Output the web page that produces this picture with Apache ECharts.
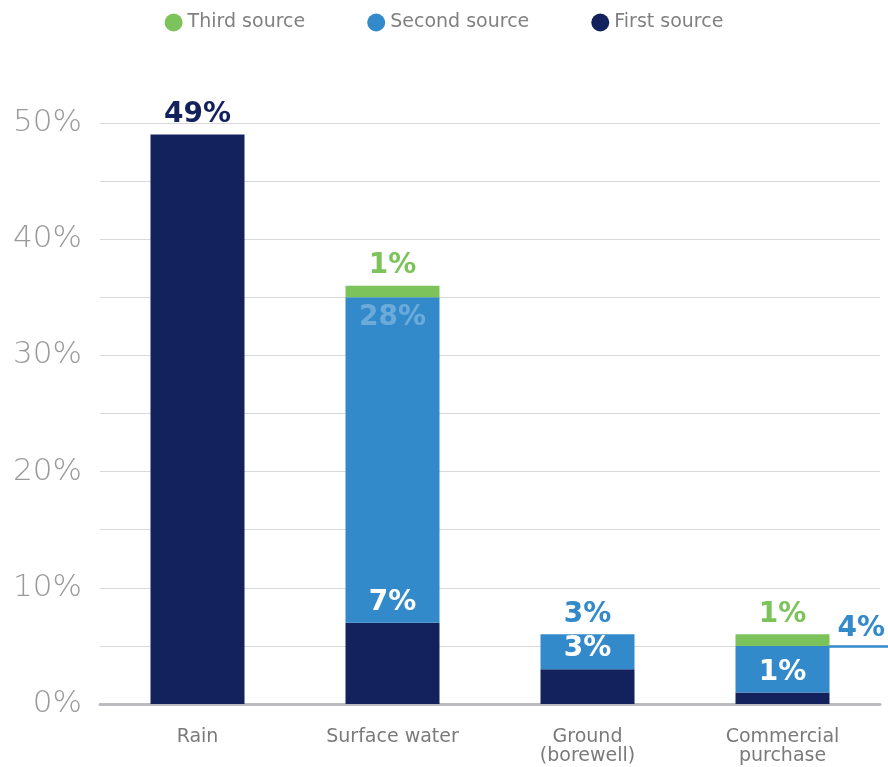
<!DOCTYPE html>
<html>
<head>
<meta charset="utf-8">
<script src="https://cdn.jsdelivr.net/npm/echarts@6/dist/echarts.min.js"></script>
<style>
html,body{margin:0;padding:0;background:#fff;}
#chart{width:888px;height:767px;}
</style>
</head>
<body>
<div id="chart"></div>
<script>
var categories = ['Rain', 'Surface water', 'Ground\n(borewell)', 'Commercial\npurchase'];
var firstSource = [49, 7, 3, 1];
var secondSource = [0, 28, 3, 4];
var thirdSource = [0, 1, 0, 1];
var yTicks = [0, 10, 20, 30, 40, 50];

var NAVY = '#13225c', BLUE = '#338acb', GREEN = '#7dc35b';
var labelFont = {fontFamily: 'DejaVu Sans', fontWeight: 'bold', fontSize: 28};

var firstData = firstSource.map(function (v, i) {
  return {
    value: v,
    label: {show: true, position: 'top', distance: 6, color: i === 0 ? NAVY : '#ffffff', formatter: v + '%'}
  };
});
var secondData = secondSource.map(function (v, i) {
  var item = {value: v, label: {show: false}};
  if (i === 1) item.label = {show: true, position: 'insideTop', distance: 6, color: 'rgba(255,255,255,0.28)', formatter: v + '%'};
  if (i === 2) item.label = {show: true, position: 'top', distance: 6, color: BLUE, formatter: v + '%'};
  return item;
});
var thirdData = thirdSource.map(function (v) {
  return {value: v, label: {show: v > 0, position: 'top', distance: 6, color: GREEN, formatter: v + '%'}};
});

var chart = echarts.init(document.getElementById('chart'));
chart.setOption({
  animation: false,
  legend: {
    data: ['Third source', 'Second source', 'First source'],
    top: 8,
    left: 'center',
    icon: 'circle',
    itemWidth: 18,
    itemHeight: 18,
    itemGap: 62,
    textStyle: {color: '#808080', fontSize: 19, fontFamily: 'DejaVu Sans'}
  },
  grid: {left: 100, right: 8, top: 123, bottom: 63},
  xAxis: {
    type: 'category',
    data: categories,
    axisTick: {show: false},
    axisLine: {lineStyle: {color: '#bcbcc0', width: 3}},
    axisLabel: {color: '#7a7a7a', fontSize: 19, fontFamily: 'DejaVu Sans', margin: 24, lineHeight: 19}
  },
  yAxis: {
    type: 'value',
    min: 0,
    max: 50,
    interval: 5,
    axisLine: {show: false},
    axisTick: {show: false},
    splitLine: {lineStyle: {color: '#d6d8da', width: 1}},
    axisLabel: {
      color: '#9a9a9a', fontSize: 31, fontFamily: 'DejaVu Sans', fontWeight: 200, margin: 18,
      formatter: function (v) { return yTicks.indexOf(v) >= 0 ? v + '%' : ''; }
    }
  },
  series: [
    {
      name: 'First source', type: 'bar', stack: 'total', barWidth: 94,
      itemStyle: {color: NAVY}, label: labelFont, data: firstData
    },
    {
      name: 'Second source', type: 'bar', stack: 'total', barWidth: 94,
      itemStyle: {color: BLUE}, label: labelFont, data: secondData,
      markLine: {
        silent: true, symbol: 'none', z: 1,
        lineStyle: {color: BLUE, type: 'solid', width: 2.5},
        label: {
          show: true, position: 'insideEndTop', distance: 3, color: BLUE,
          fontFamily: 'DejaVu Sans', fontWeight: 'bold', fontSize: 28,
          formatter: secondSource[3] + '%'
        },
        data: [[
          {coord: [categories[3], firstSource[3] + secondSource[3]]},
          {coord: [categories[3], firstSource[3] + secondSource[3]], x: '100%'}
        ]]
      }
    },
    {
      name: 'Third source', type: 'bar', stack: 'total', barWidth: 94,
      itemStyle: {color: GREEN}, label: labelFont, data: thirdData
    }
  ]
});
</script>
</body>
</html>
